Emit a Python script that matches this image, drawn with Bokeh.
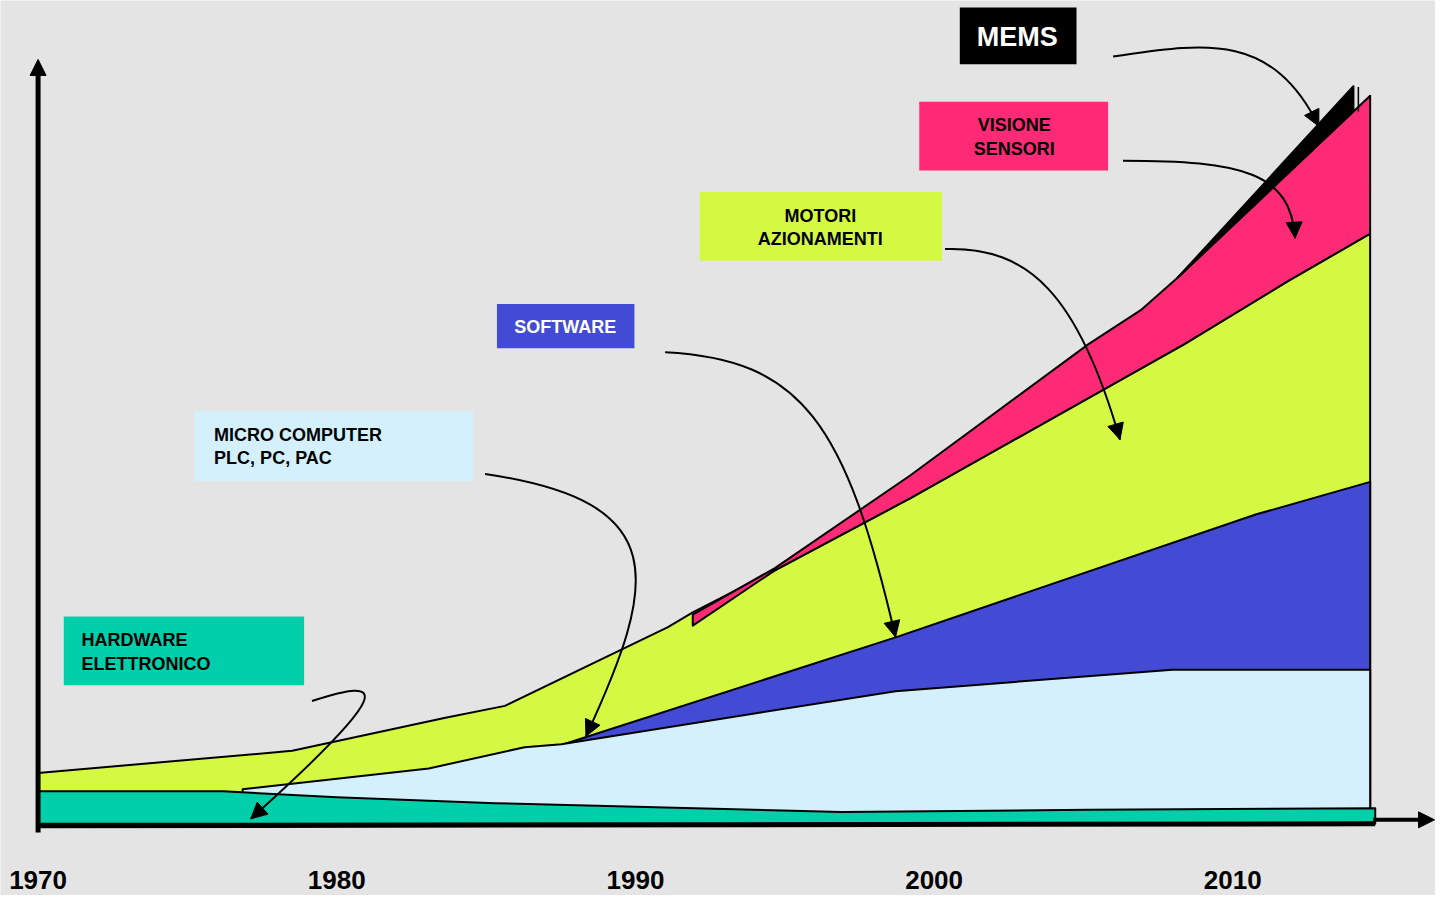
from bokeh.plotting import figure
from bokeh.models import Range1d, Arrow, NormalHead
from bokeh.core.properties import value
from bokeh.embed import file_html
from bokeh.resources import INLINE

# ---------------- data (years, index values) ----------------
YEAR_TICKS = [1970, 1980, 1990, 2000, 2010]

HW_YEARS = [1970.0, 1976.2, 1980.0, 1985.3, 1996.9, 2005.2, 2014.77]
HW_TOP = [4.4, 4.4, 3.6, 2.8, 1.6, 1.9, 2.1]

MICRO_YEARS = [1976.85, 1983.08, 1986.29, 1987.52, 1998.71, 2007.98, 2014.6]
MICRO_TOP = [4.7, 7.5, 10.4, 10.8, 18.0, 20.9, 20.9]

SW_YEARS = [1987.52, 1998.71, 2010.79, 2014.6]
SW_TOP = [10.7, 25.3, 42.0, 46.4]

MOT_YEARS = [1970.0, 1978.51, 1983.64, 1985.63, 1991.09, 1991.92, 1994.67,
             1999.21, 2008.38, 2011.79, 2014.6]
MOT_TOP = [6.9, 9.9, 14.4, 16.0, 26.7, 28.7, 34.4, 44.2, 65.1, 73.5, 80.1]

VIS_YEARS = [1991.92, 1994.67, 1999.21, 2005.17, 2006.92, 2008.15, 2014.6]
VIS_TOP = [28.4, 34.7, 47.3, 65.1, 69.7, 74.1, 98.8]
VIS_BASE_YEARS = [1991.92, 1994.67, 1999.21, 2008.38, 2011.79, 2014.6]
VIS_BASE = [26.9, 34.4, 44.2, 65.1, 73.5, 80.1]

MEMS_YEARS = [2008.15, 2014.04]
MEMS_TOP = [74.1, 100.1]
MEMS_BASE = [74.1, 96.7]

LABELS = {
    "hw": ["HARDWARE", "ELETTRONICO"],
    "micro": ["MICRO COMPUTER", "PLC, PC, PAC"],
    "sw": ["SOFTWARE"],
    "mot": ["MOTORI", "AZIONAMENTI"],
    "vis": ["VISIONE", "SENSORI"],
    "mems": ["MEMS"],
}

# ---------------- styles ----------------
BG = "#e4e4e4"
C_HW = "#00CFAA"
C_MICRO = "#D4F0FD"
C_SW = "#434BD4"
C_MOT = "#D5F943"
C_VIS = "#FF2A75"
C_MEMS = "#000000"
FONT = "Liberation Sans"


# layout helpers: reference-picture pixel -> data space
def X(px):
    return 1970 + (px - 38) / 30.2


def Y(py):
    return (838 - py) / 7.5


p = figure(width=1435, height=895,
           x_range=Range1d(X(0), X(1451)), y_range=Range1d(Y(911), Y(0)),
           output_backend="svg", toolbar_location=None, min_border=0,
           x_axis_location=None, y_axis_location=None)
p.grid.visible = False
p.outline_line_color = None
p.background_fill_color = BG
p.border_fill_color = BG


def layer(xt, yt, xb, yb, color):
    xs = list(xt) + list(xb)[::-1]
    ys = list(yt) + list(yb)[::-1]
    p.patch(xs, ys, fill_color=color, line_color="black", line_width=2,
            line_join="round")


# painter order: upper layers reach down to the baseline, lower ones cover them
layer(MOT_YEARS, MOT_TOP, [MOT_YEARS[0], MOT_YEARS[-1]], [0, 0], C_MOT)
layer(SW_YEARS, SW_TOP, [SW_YEARS[0], SW_YEARS[-1]], [0, 0], C_SW)
layer(MICRO_YEARS, MICRO_TOP, [MICRO_YEARS[0], MICRO_YEARS[-1]], [0, 0], C_MICRO)
layer(HW_YEARS, HW_TOP, [HW_YEARS[0], HW_YEARS[-1]], [0, 0], C_HW)
layer(VIS_YEARS, VIS_TOP, VIS_BASE_YEARS, VIS_BASE, C_VIS)
layer(MEMS_YEARS, MEMS_TOP, MEMS_YEARS, MEMS_BASE, C_MEMS)
p.line([X(1373), X(1373)], [Y(88), Y(113)], line_color="black", line_width=1.5)

# axes
p.line([X(38), X(1390)], [Y(840), Y(838)], line_color="black", line_width=5)
p.add_layout(Arrow(x_start=X(38), y_start=Y(847), x_end=X(38), y_end=Y(60),
                   line_width=5, line_color="black",
                   end=NormalHead(size=16, fill_color="black", line_color="black")))
p.add_layout(Arrow(x_start=X(1388), y_start=Y(834), x_end=X(1450), y_end=Y(834),
                   line_width=4, line_color="black",
                   end=NormalHead(size=16, fill_color="black", line_color="black")))

# year labels
p.text(YEAR_TICKS, [Y(895)] * len(YEAR_TICKS), [str(v) for v in YEAR_TICKS],
       text_font=value(FONT), text_font_style="bold", text_font_size="26px",
       text_align="center", text_baseline="middle", text_color="black")

# label boxes (left, right, top, bottom in reference px), text position, style
BOXES = [
    ("hw", 64, 307, 627, 697, C_HW, 82, [651, 675], "left", "black", "18px"),
    ("micro", 196, 478, 418, 489, C_MICRO, 216, [442, 466], "left", "black", "18px"),
    ("sw", 502, 641, 309, 354, C_SW, 571, [332], "center", "white", "18px"),
    ("mot", 707, 952, 195, 265, C_MOT, 829, [219, 243], "center", "black", "18px"),
    ("vis", 929, 1120, 103, 173, C_VIS, 1025, [127, 151], "center", "black", "18px"),
    ("mems", 970, 1088, 7, 65, C_MEMS, 1028, [37], "center", "white", "27px"),
]
for key, l, r, t, b, col, tx, tys, align, tcol, fs in BOXES:
    p.quad(left=X(l), right=X(r), top=Y(t), bottom=Y(b), fill_color=col,
           line_color=None)
    lines = LABELS[key]
    p.text([X(tx)] * len(lines), [Y(ty) for ty in tys], lines,
           text_font=value(FONT), text_font_style="bold", text_font_size=fs,
           text_align=align, text_baseline="middle", text_color=tcol)

# curved pointer arrows: P0, C1, C2, P3 in reference px
POINTERS = [
    ((1125, 57), (1215, 44), (1285, 30), (1333, 128)),
    ((1135, 163), (1255, 163), (1305, 175), (1309, 242)),
    ((955, 253), (1040, 250), (1090, 300), (1132, 447)),
    ((672, 358), (810, 365), (855, 430), (905, 648)),
    ((490, 482), (680, 510), (665, 590), (592, 749)),
    ((315, 713), (390, 688), (400, 700), (253, 833)),
]
for p0, c1, c2, p3 in POINTERS:
    p.bezier(x0=[X(p0[0])], y0=[Y(p0[1])], x1=[X(p3[0])], y1=[Y(p3[1])],
             cx0=[X(c1[0])], cy0=[Y(c1[1])], cx1=[X(c2[0])], cy1=[Y(c2[1])],
             line_color="black", line_width=2)
    dx, dy = p3[0] - c2[0], p3[1] - c2[1]
    n = (dx * dx + dy * dy) ** 0.5
    sx, sy = p3[0] - dx / n * 6, p3[1] - dy / n * 6
    p.add_layout(Arrow(x_start=X(sx), y_start=Y(sy), x_end=X(p3[0]), y_end=Y(p3[1]),
                       line_alpha=0,
                       end=NormalHead(size=16, fill_color="black", line_color="black")))

open("out.html", "w").write(file_html(p, INLINE))
